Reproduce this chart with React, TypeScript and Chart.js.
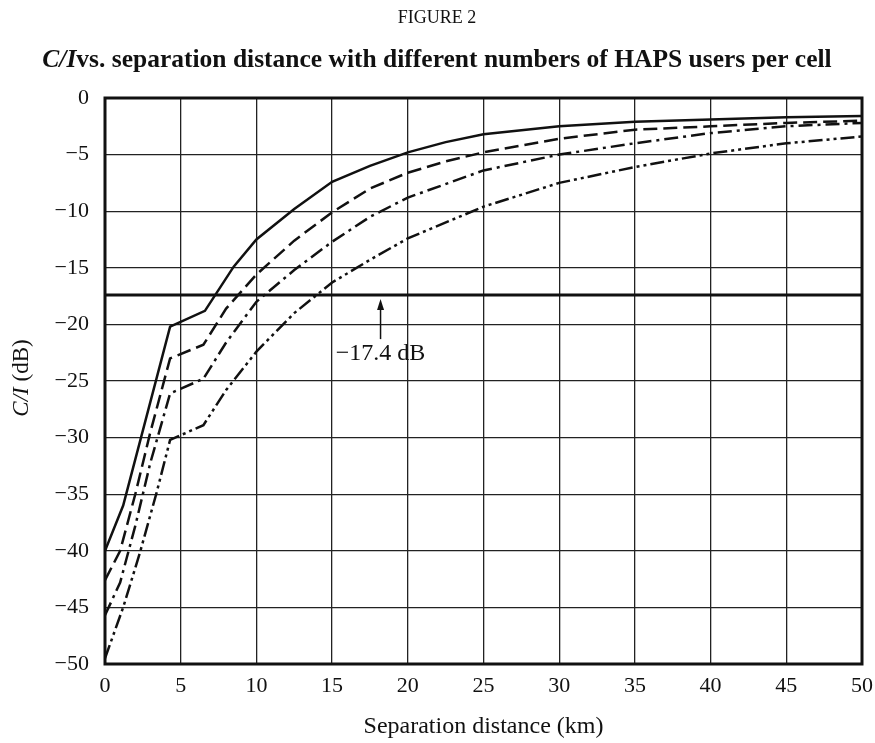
import React, { useEffect, useRef } from "react";
import { Chart, registerables } from "chart.js";

Chart.register(...registerables);

const FIGURE_TITLE = "FIGURE 2";
const SUBTITLE_ITALIC = "C/I";
const SUBTITLE_REST = "vs. separation distance with different numbers of HAPS users per cell";
const X_TITLE = "Separation distance (km)";
const Y_TITLE_ITALIC = "C/I";
const Y_TITLE_REST = " (dB)";

const solidX = [0, 1.2, 4.3, 6.6, 8.5, 10, 12.5, 15, 17.5, 20, 22.5, 25, 30, 35, 40, 45, 50];
const solidY = [-40, -36, -20.2, -18.8, -14.9, -12.5, -9.8, -7.4, -6.0, -4.8, -3.9, -3.2, -2.5, -2.1, -1.9, -1.7, -1.6];

const dashedX = [0, 1, 2, 3, 4.3, 6.5, 8, 10, 12.5, 15, 17.5, 20, 22.5, 25, 30, 35, 40, 45, 50];
const dashedY = [-42.6, -40, -35, -29.5, -23, -21.8, -18.6, -15.6, -12.6, -10.1, -8.0, -6.6, -5.6, -4.8, -3.6, -2.8, -2.5, -2.2, -2.0];

const dashDotX = [0, 1, 2, 3, 4.3, 6.5, 8, 10, 12.5, 15, 17.5, 20, 25, 30, 35, 40, 45, 50];
const dashDotY = [-45.7, -42.8, -37.8, -32.2, -26.1, -24.8, -21.6, -18.0, -15.2, -12.7, -10.5, -8.8, -6.4, -5.0, -4.0, -3.1, -2.5, -2.2];

const dashDotDotX = [0, 1.2, 2.3, 3.4, 4.3, 6.5, 8, 10, 12.5, 15, 17.5, 20, 25, 30, 35, 40, 45, 50];
const dashDotDotY = [-49.5, -45, -40.2, -34.9, -30.2, -28.9, -25.8, -22.4, -19.0, -16.3, -14.3, -12.4, -9.6, -7.5, -6.1, -4.9, -4.0, -3.4];

const thresholdX = [0, 50];
const thresholdY = [-17.4, -17.4];
const THRESHOLD_LABEL = "\u221217.4 dB";
const ARROW_X = 18.2;
const ARROW_FROM = -21.3;
const ARROW_TO = -17.75;
const LABEL_Y = -22.6;

const X_MIN = 0;
const X_MAX = 50;
const Y_MIN = -50;
const Y_MAX = 0;
const TICK_STEP = 5;

const SERIF = "'Liberation Serif', 'Times New Roman', serif";

const toPoints = (xs: number[], ys: number[]) => xs.map((x, i) => ({ x, y: ys[i] }));
const fmt = (v: number) => (v < 0 ? "\u2212" + Math.abs(v) : String(v));

const textPlugin = {
  id: "figText",
  afterDraw(chart: any) {
    const ctx = chart.ctx;
    const xs = chart.scales.x;
    const ys = chart.scales.y;
    ctx.save();
    ctx.fillStyle = "#111";
    ctx.textBaseline = "middle";

    // Figure title
    ctx.font = `18px ${SERIF}`;
    ctx.textAlign = "center";
    ctx.fillText(FIGURE_TITLE, 437, 18);

    // Subtitle with mixed font
    const fItal = `italic bold 25.5px ${SERIF}`;
    const fBold = `bold 25.5px ${SERIF}`;
    ctx.font = fItal;
    const w1 = ctx.measureText(SUBTITLE_ITALIC).width;
    ctx.font = fBold;
    const w2 = ctx.measureText(SUBTITLE_REST).width;
    const sx = 437 - (w1 + w2) / 2;
    ctx.textAlign = "left";
    ctx.font = fItal;
    ctx.fillText(SUBTITLE_ITALIC, sx, 60);
    ctx.font = fBold;
    ctx.fillText(SUBTITLE_REST, sx + w1, 60);

    // Y-axis title rotated
    ctx.save();
    ctx.translate(22, 378);
    ctx.rotate(-Math.PI / 2);
    const yi = `italic 23px ${SERIF}`;
    const yn = `23px ${SERIF}`;
    ctx.font = yi;
    const a = ctx.measureText(Y_TITLE_ITALIC).width;
    ctx.font = yn;
    const b = ctx.measureText(Y_TITLE_REST).width;
    ctx.textAlign = "left";
    ctx.font = yi;
    ctx.fillText(Y_TITLE_ITALIC, -(a + b) / 2, 0);
    ctx.font = yn;
    ctx.fillText(Y_TITLE_REST, -(a + b) / 2 + a, 0);
    ctx.restore();

    // X-axis title
    ctx.font = `24px ${SERIF}`;
    ctx.textAlign = "center";
    ctx.fillText(X_TITLE, (xs.left + xs.right) / 2, 727);

    // Arrow
    const ax = xs.getPixelForValue(ARROW_X);
    const y0 = ys.getPixelForValue(ARROW_FROM);
    const y1 = ys.getPixelForValue(ARROW_TO);
    ctx.strokeStyle = "#111";
    ctx.lineWidth = 1.5;
    ctx.beginPath();
    ctx.moveTo(ax, y0);
    ctx.lineTo(ax, y1 + 8);
    ctx.stroke();
    ctx.beginPath();
    ctx.moveTo(ax, y1);
    ctx.lineTo(ax - 3.5, y1 + 11);
    ctx.lineTo(ax + 3.5, y1 + 11);
    ctx.closePath();
    ctx.fill();

    // Label
    ctx.font = `24px ${SERIF}`;
    ctx.textAlign = "center";
    ctx.fillText(THRESHOLD_LABEL, ax, ys.getPixelForValue(LABEL_Y));

    // Thick frame
    ctx.strokeStyle = "#111";
    ctx.lineWidth = 3;
    const ca = chart.chartArea;
    ctx.strokeRect(ca.left, ca.top, ca.right - ca.left, ca.bottom - ca.top);
    ctx.restore();
  },
};

export default function App() {
  const ref = useRef<HTMLCanvasElement | null>(null);

  useEffect(() => {
    if (!ref.current) return;
    const lineBase = {
      borderColor: "#111",
      borderWidth: 2.5,
      pointRadius: 0,
      fill: false,
      tension: 0,
    };
    const chart = new Chart(ref.current, {
      type: "line",
      data: {
        datasets: [
          { ...lineBase, label: "solid", data: toPoints(solidX, solidY), borderDash: [] },
          { ...lineBase, label: "dashed", data: toPoints(dashedX, dashedY), borderDash: [14, 6] },
          { ...lineBase, label: "dash-dot", data: toPoints(dashDotX, dashDotY), borderDash: [14, 5, 3, 5] },
          { ...lineBase, label: "dash-dot-dot", data: toPoints(dashDotDotX, dashDotDotY), borderDash: [14, 4, 3, 4, 3, 4] },
          { ...lineBase, label: "threshold", data: toPoints(thresholdX, thresholdY), borderWidth: 3 },
        ],
      },
      options: {
        responsive: false,
        animation: false,
        events: [],
        layout: { padding: { top: 98, right: 13, left: 0, bottom: 0 } },
        plugins: {
          legend: { display: false },
          title: { display: false },
          tooltip: { enabled: false },
        },
        scales: {
          x: {
            type: "linear",
            min: X_MIN,
            max: X_MAX,
            afterFit: (s: any) => {
              s.height = 79;
              s.paddingLeft = 0;
              s.paddingRight = 0;
            },
            ticks: {
              stepSize: TICK_STEP,
              color: "#111",
              font: { family: SERIF, size: 22 },
              padding: 9,
              maxRotation: 0,
              callback: (v: any) => fmt(Number(v)),
            },
            grid: { color: "#222", lineWidth: 1.3, drawTicks: false },
            border: { display: false },
          },
          y: {
            type: "linear",
            min: Y_MIN,
            max: Y_MAX,
            afterFit: (s: any) => {
              s.width = 105;
              s.paddingTop = 0;
              s.paddingBottom = 0;
            },
            ticks: {
              stepSize: TICK_STEP,
              color: "#111",
              font: { family: SERIF, size: 22 },
              padding: 16,
              callback: (v: any) => fmt(Number(v)),
            },
            grid: { color: "#222", lineWidth: 1.3, drawTicks: false },
            border: { display: false },
          },
        },
      },
      plugins: [textPlugin],
    });
    return () => chart.destroy();
  }, []);

  return (
    <div style={{ position: "absolute", left: 0, top: 0, width: 875, height: 743, background: "#fff" }}>
      <canvas ref={ref} width={875} height={743} />
    </div>
  );
}
